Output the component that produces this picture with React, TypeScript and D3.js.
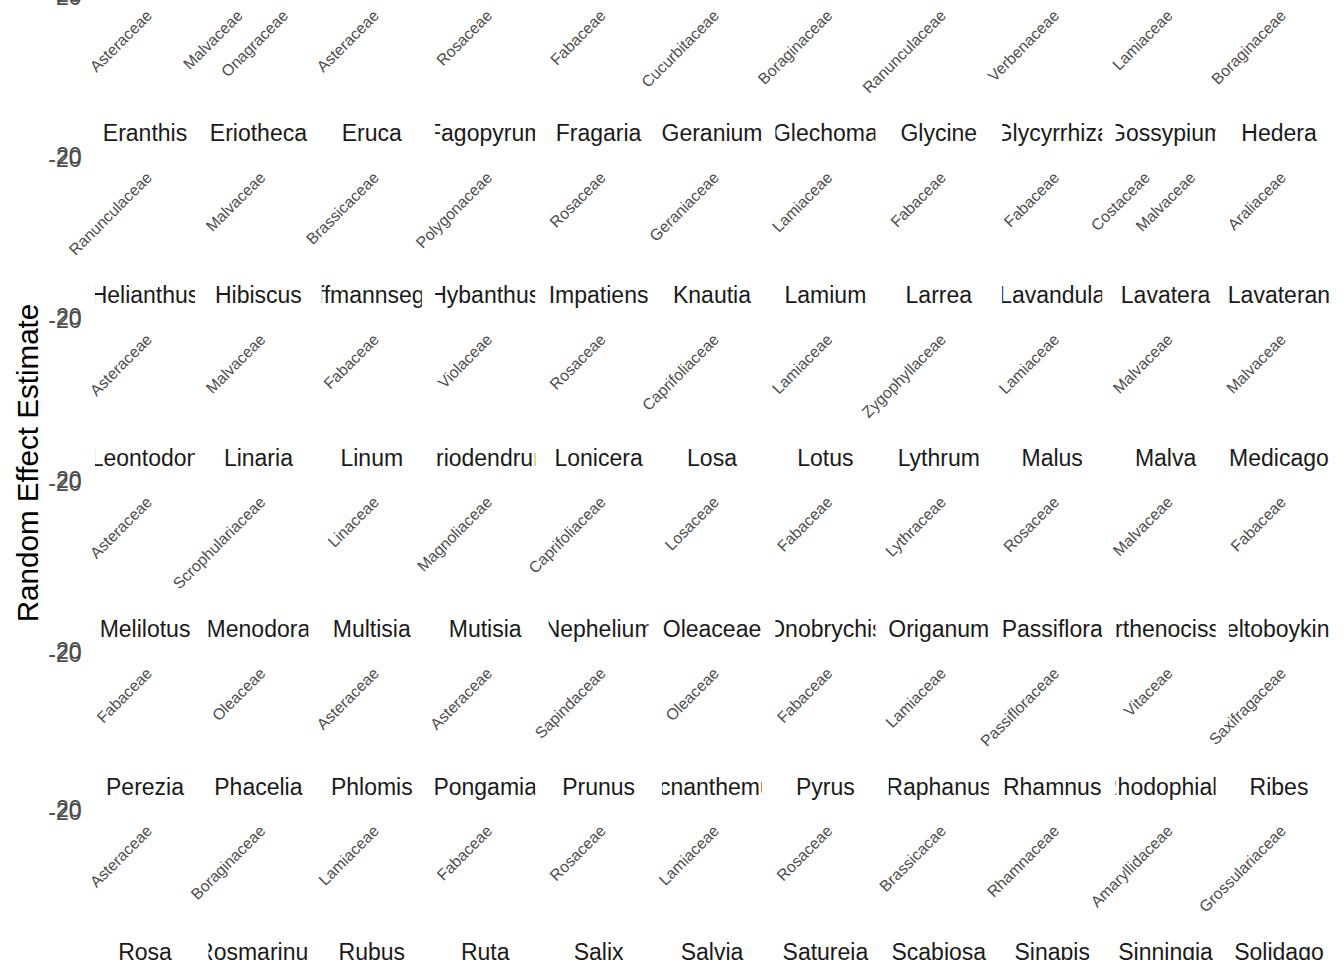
import React, { useRef, useEffect } from "react";
import * as d3 from "d3";

// genus per facet, in facet_wrap order (first row's strips sit above the visible area)
const GENERA: string[] = [
  "", "", "", "", "", "", "", "", "", "", "",
  "Eranthis", "Eriotheca", "Eruca", "Fagopyrum", "Fragaria", "Geranium", "Glechoma", "Glycine", "Glycyrrhiza", "Gossypium", "Hedera",
  "Helianthus", "Hibiscus", "Hoffmannseggia", "Hybanthus", "Impatiens", "Knautia", "Lamium", "Larrea", "Lavandula", "Lavatera", "Lavateran",
  "Leontodon", "Linaria", "Linum", "Liriodendrum", "Lonicera", "Losa", "Lotus", "Lythrum", "Malus", "Malva", "Medicago",
  "Melilotus", "Menodora", "Multisia", "Mutisia", "Nephelium", "Oleaceae", "Onobrychis", "Origanum", "Passiflora", "Parthenocissus", "Peltoboykinia",
  "Perezia", "Phacelia", "Phlomis", "Pongamia", "Prunus", "Pycnanthemum", "Pyrus", "Raphanus", "Rhamnus", "Rhodophiala", "Ribes",
  "Rosa", "Rosmarinus", "Rubus", "Ruta", "Salix", "Salvia", "Satureja", "Scabiosa", "Sinapis", "Sinningia", "Solidago",
];

// family categories on each facet's x axis
const FAMILIES: string[][] = [
  ["Asteraceae"], ["Malvaceae", "Onagraceae"], ["Asteraceae"], ["Rosaceae"], ["Fabaceae"], ["Cucurbitaceae"],
  ["Boraginaceae"], ["Ranunculaceae"], ["Verbenaceae"], ["Lamiaceae"], ["Boraginaceae"],
  ["Ranunculaceae"], ["Malvaceae"], ["Brassicaceae"], ["Polygonaceae"], ["Rosaceae"], ["Geraniaceae"],
  ["Lamiaceae"], ["Fabaceae"], ["Fabaceae"], ["Costaceae", "Malvaceae"], ["Araliaceae"],
  ["Asteraceae"], ["Malvaceae"], ["Fabaceae"], ["Violaceae"], ["Rosaceae"], ["Caprifoliaceae"],
  ["Lamiaceae"], ["Zygophyllaceae"], ["Lamiaceae"], ["Malvaceae"], ["Malvaceae"],
  ["Asteraceae"], ["Scrophulariaceae"], ["Linaceae"], ["Magnoliaceae"], ["Caprifoliaceae"], ["Losaceae"],
  ["Fabaceae"], ["Lythraceae"], ["Rosaceae"], ["Malvaceae"], ["Fabaceae"],
  ["Fabaceae"], ["Oleaceae"], ["Asteraceae"], ["Asteraceae"], ["Sapindaceae"], ["Oleaceae"],
  ["Fabaceae"], ["Lamiaceae"], ["Passifloraceae"], ["Vitaceae"], ["Saxifragaceae"],
  ["Asteraceae"], ["Boraginaceae"], ["Lamiaceae"], ["Fabaceae"], ["Rosaceae"], ["Lamiaceae"],
  ["Rosaceae"], ["Brassicacae"], ["Rhamnaceae"], ["Amaryllidaceae"], ["Grossulariaceae"],
  [], [], [], [], [], [], [], [], [], [], [],
];

const Y_DOMAIN = [-20, 20];
const Y_TICKS = [-20, 20];
const Y_TITLE = "Random Effect Estimate";

const NCOL = 11;
const W = 1344;
const H = 960;
const FONT = "'Liberation Sans', Arial, Helvetica, sans-serif";
const FAM_SIZE = 15.8;
const STRIP_SIZE = 23;

export default function App() {
  const svgRef = useRef<SVGSVGElement>(null);

  useEffect(() => {
    const svg = d3.select(svgRef.current);
    svg.selectAll("*").remove();

    const nrow = Math.ceil(GENERA.length / NCOL);
    const col = d3.scaleBand<number>().domain(d3.range(NCOL)).range([95, 1329]).paddingInner(0.118);
    const bw = col.bandwidth();

    // row height depends on the longest rotated family label in that row
    const probe = svg.append("text").attr("font-family", FONT).attr("font-size", FAM_SIZE);
    const widthOf = (s: string) => {
      probe.text(s);
      return (probe.node() as SVGTextElement).getComputedTextLength();
    };
    const rowMax = d3.range(nrow).map((r) => {
      const labs = FAMILIES.slice(r * NCOL, (r + 1) * NCOL).flat();
      return d3.max(labs, widthOf) ?? 0;
    });
    probe.remove();

    const rowY: number[] = [];
    let cy = -5.5;
    for (let r = 0; r < nrow; r++) {
      rowY.push(cy);
      cy += rowMax[r] * Math.SQRT1_2 + 84.3;
    }

    const defs = svg.append("defs");

    GENERA.forEach((genus, i) => {
      const r = Math.floor(i / NCOL);
      const c = i % NCOL;
      const x0 = col(c) as number;
      const py = rowY[r];

      const y = d3.scaleLinear().domain(Y_DOMAIN).range([py + 1.5, py - 1.5]);
      const x = d3.scalePoint<string>().domain(FAMILIES[i]).range([0, bw]).padding(0.6);

      // strip
      defs.append("clipPath").attr("id", `strip-${i}`)
        .append("rect").attr("x", x0).attr("y", py - 45).attr("width", bw).attr("height", 40);
      svg.append("text")
        .attr("clip-path", `url(#strip-${i})`)
        .attr("x", x0 + bw / 2)
        .attr("y", py - 15)
        .attr("text-anchor", "middle")
        .attr("font-family", FONT)
        .attr("font-size", STRIP_SIZE)
        .attr("fill", "#1a1a1a")
        .text(genus);

      // x axis (families)
      const gx = svg.append("g")
        .attr("transform", `translate(${x0},${py})`)
        .call(d3.axisBottom(x).tickSize(0));
      gx.select(".domain").remove();
      gx.selectAll("text")
        .attr("x", null)
        .attr("y", null)
        .attr("dy", "0.72em")
        .attr("text-anchor", "end")
        .attr("transform", "translate(-0.5,14) rotate(-45)")
        .attr("font-family", FONT)
        .attr("font-size", FAM_SIZE)
        .attr("fill", "#4d4d4d");

      // y axis on first column only
      if (c === 0) {
        const gy = svg.append("g")
          .attr("transform", `translate(${x0},0)`)
          .call(
            d3.axisLeft(y)
              .tickValues(Y_TICKS)
              .tickFormat((d) => String(d))
              .tickSize(0)
              .tickPadding(13.5)
          );
        gy.select(".domain").remove();
        gy.selectAll("text")
          .attr("dy", "0.35em")
          .attr("font-family", FONT)
          .attr("font-size", STRIP_SIZE)
          .attr("fill", "#4d4d4d");
      }
    });

    svg.append("text")
      .attr("transform", `translate(38,463) rotate(-90)`)
      .attr("text-anchor", "middle")
      .attr("font-family", FONT)
      .attr("font-size", 29.6)
      .attr("fill", "#000")
      .text(Y_TITLE);
  }, []);

  return (
    <svg
      ref={svgRef}
      width={W}
      height={H}
      style={{ position: "absolute", left: 0, top: 0, background: "#fff", display: "block" }}
    />
  );
}
